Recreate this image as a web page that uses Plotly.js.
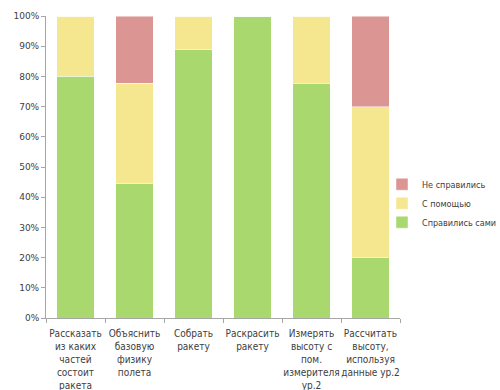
<!DOCTYPE html>
<html>
<head>
<meta charset="utf-8">
<script src="https://cdn.plot.ly/plotly-3.0.1.min.js"></script>
<style>html,body{margin:0;padding:0;background:#fff;}#chart{width:500px;height:390px;}</style>
</head>
<body>
<div id="chart"></div>
<script>
const categories = [
  "Рассказать<br>из каких<br>частей<br>состоит<br>ракета",
  "Объяснить<br>базовую<br>физику<br>полета",
  "Собрать<br>ракету",
  "Раскрасить<br>ракету",
  "Измерять<br>высоту с<br>пом.<br>измерителя<br>ур.2",
  "Рассчитать<br>высоту,<br>используя<br>данные ур.2"
];
const selfDone = [0.80, 0.444, 0.889, 1.00, 0.778, 0.20];
const withHelp = [0.20, 0.333, 0.111, 0.00, 0.222, 0.50];
const failed   = [0.00, 0.222, 0.00, 0.00, 0.00, 0.30];
const seriesNames = ["Справились сами", "С помощью", "Не справились"];
const colors = ["#a9d86e", "#f5e690", "#db9694"];

const series = [selfDone, withHelp, failed];
const traces = series.map((vals, i) => ({
  type: "bar",
  name: seriesNames[i],
  x: categories,
  y: vals,
  marker: {color: colors[i], line: {color: "rgba(255,255,255,0.6)", width: 0.8}},
  hoverinfo: "skip"
}));

const layout = {
  width: 500, height: 390,
  margin: {l: 46, r: 100, t: 16, b: 72, autoexpand: false},
  barmode: "stack",
  bargap: 0.37,
  paper_bgcolor: "#fff",
  plot_bgcolor: "#fff",
  font: {family: "DejaVu Sans, Verdana, sans-serif", size: 9, color: "#404040"},
  xaxis: {
    showline: true, linecolor: "#a6a6a6", linewidth: 1,
    ticks: "outside", tickson: "boundaries", ticklen: 4, tickcolor: "#a6a6a6",
    showgrid: false, zeroline: false, tickangle: 0, automargin: false,
    ticklabelstandoff: 6,
    tickfont: {family: "DejaVu Sans Condensed, DejaVu Sans, sans-serif", size: 10, color: "#404040"}
  },
  yaxis: {
    range: [0, 1], tickformat: ".0%", dtick: 0.1,
    showline: true, linecolor: "#a6a6a6", linewidth: 1,
    ticks: "outside", ticklen: 4, tickcolor: "#a6a6a6",
    showgrid: false, zeroline: false, automargin: false,
    tickfont: {size: 9, color: "#404040"}
  },
  legend: {
    xref: "container", x: 0.764, y: 0.38, xanchor: "left", yanchor: "middle",
    bgcolor: "rgba(0,0,0,0)",
    font: {family: "DejaVu Sans Condensed, DejaVu Sans, sans-serif", size: 9, color: "#404040"},
    itemwidth: 30, tracegroupgap: 0
  },
  showlegend: true
};

Plotly.newPlot("chart", traces, layout, {displayModeBar: false, staticPlot: true});
</script>
</body>
</html>
